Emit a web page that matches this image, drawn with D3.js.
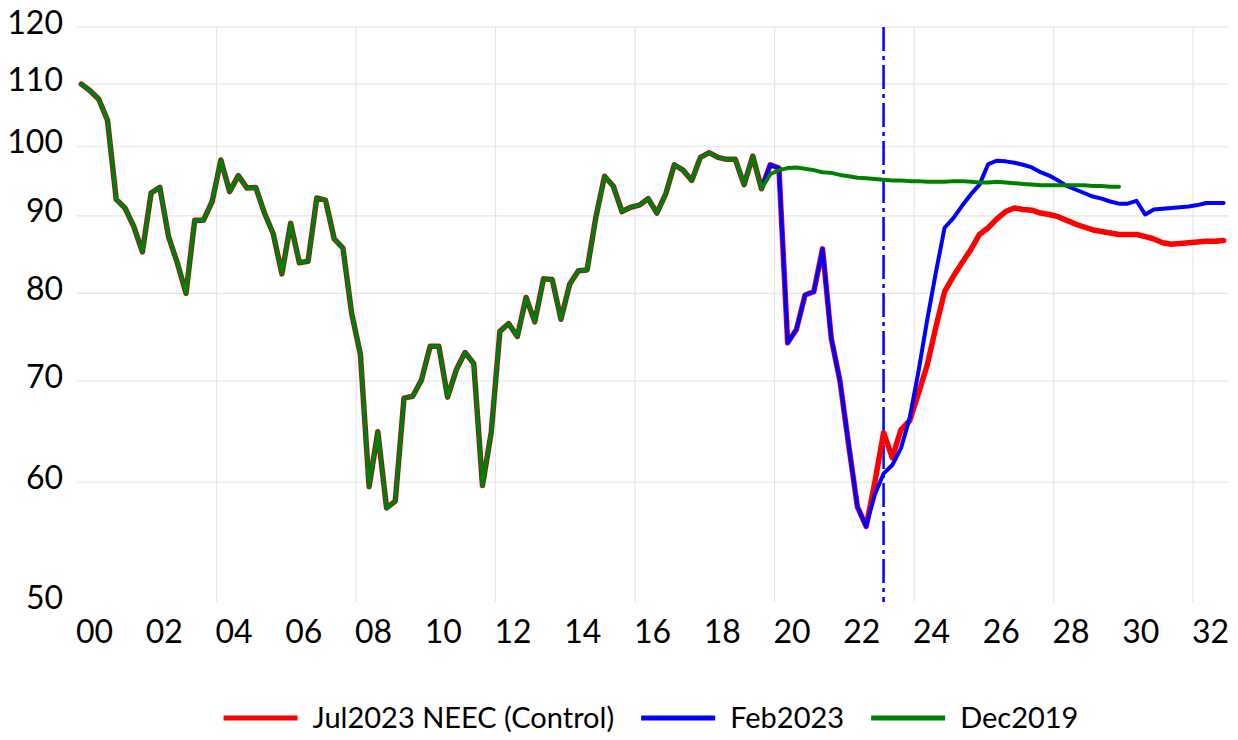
<!DOCTYPE html>
<html>
<head>
<meta charset="utf-8">
<script src="https://cdn.jsdelivr.net/npm/d3@7"></script>
<style>
    html, body { margin: 0; padding: 0; background: #ffffff; }
    #chart { width: 1238px; height: 740px; }
    text { font-family: Lato, "Open Sans", sans-serif; fill: #000000; }
</style>
</head>
<body>
<div id="chart"></div>
<script>
// ===== quarterly series, first point = 2000Q1 =====
const startYear = 2000;

// shared history 2000Q1 - 2019Q3
const history = [
    110.0, 108.9, 107.5, 104.1,
    92.3, 91.1, 88.6, 85.2,
    93.2, 94.0, 87.2, 83.8,
    80.0, 89.4, 89.4, 92.0,
    98.0, 93.4, 95.7, 93.9,
    94.0, 90.4, 87.6, 82.4,
    89.0, 83.8, 84.0, 92.5,
    92.2, 86.9, 85.7, 77.6,
    72.9, 59.6, 64.8, 57.7,
    58.3, 68.2, 68.4, 70.1,
    73.8, 73.8, 68.3, 71.2,
    73.1, 71.9, 59.7, 64.7,
    75.5, 76.4, 74.9, 79.5,
    76.6, 81.8, 81.7, 76.9,
    81.1, 82.8, 82.9, 89.8,
    95.6, 94.2, 90.6, 91.2,
    91.5, 92.4, 90.4, 93.0,
    97.3, 96.5, 95.0, 98.4,
    99.1, 98.4, 98.1, 98.1,
    94.4, 98.6, 93.8
];

// from 2019Q4 on
const jul2023 = [
    97.3,
    96.8, 74.2, 75.7, 79.8,
    80.2, 85.6, 74.7, 70.0,
    63.5, 57.8, 56.1, 60.0,
    64.7, 62.3, 65.0, 65.9,
    68.7, 71.7, 76.0, 80.2,
    82.1, 83.8, 85.5, 87.5,
    88.4, 89.6, 90.6, 91.1,
    90.9, 90.8, 90.4, 90.2,
    89.9, 89.4, 88.9, 88.5,
    88.1, 87.9, 87.7, 87.5,
    87.5, 87.5, 87.2, 86.9,
    86.4, 86.2, 86.3, 86.4,
    86.5, 86.6, 86.6, 86.7
];

const feb2023 = [
    97.3,
    96.8, 74.2, 75.7, 79.8,
    80.2, 85.6, 74.7, 70.0,
    63.5, 57.8, 56.1, 58.9,
    60.8, 61.6, 63.2, 66.2,
    71.0, 76.8, 82.6, 88.4,
    89.7, 91.4, 93.0, 94.4,
    97.4, 97.9, 97.8, 97.6,
    97.3, 96.9, 96.2, 95.7,
    95.0, 94.2, 93.7, 93.2,
    92.7, 92.4, 92.0, 91.7,
    91.7, 92.1, 90.2, 90.9,
    91.0, 91.1, 91.2, 91.3,
    91.5, 91.8, 91.8, 91.8
];

const dec2019 = [
    95.9,
    96.5, 96.8, 96.9, 96.7,
    96.5, 96.2, 96.1, 95.8,
    95.6, 95.4, 95.3, 95.2,
    95.1, 95.0, 95.0, 94.9,
    94.9, 94.8, 94.8, 94.8,
    94.9, 94.9, 94.8, 94.7,
    94.7, 94.8, 94.7, 94.6,
    94.5, 94.4, 94.3, 94.3,
    94.3, 94.3, 94.3, 94.3,
    94.2, 94.2, 94.1, 94.1
];

const yTicks = [50, 60, 70, 80, 90, 100, 110, 120];
const xLabelYears = d3.range(2000, 2033, 2);   // labels "00" .. "32"
const xGridYears = d3.range(2004, 2033, 4);
const markerYear = 2023.125;                   // 2023Q1, dashed line

const seriesNames = ['Jul2023 NEEC (Control)', 'Feb2023', 'Dec2019'];
const seriesColors = ['#ff0000', '#0000ff', '#008000'];
const seriesWidths = [5.5, 4, 4];

// ===== build =====
const width = 1238, height = 740;
const svg = d3.select('#chart').append('svg')
    .attr('width', width)
    .attr('height', height);

const x = d3.scaleLinear().domain([2000, 2033]).range([77, 1228]);
const y = d3.scaleLog().domain([50, 120]).range([602, 27]);

// quarter centre -> fractional year
const toPoints = (vals, firstIndex) =>
    vals.map((v, i) => ({ t: startYear + (firstIndex + i) / 4 + 0.125, v: v }));

const histPts = toPoints(history, 0);
const projStart = history.length;
const allSeries = [jul2023, feb2023, dec2019].map(s => histPts.concat(toPoints(s, projStart)));

// gridlines
const grid = svg.append('g');
grid.selectAll('line.h')
    .data(yTicks.filter(d => d > 50))
    .enter().append('line')
    .attr('x1', x.range()[0]).attr('x2', x.range()[1])
    .attr('y1', d => y(d)).attr('y2', d => y(d))
    .style('stroke', '#e6e6e6').style('stroke-width', 1.2);
grid.selectAll('line.v')
    .data(xGridYears)
    .enter().append('line')
    .attr('x1', d => x(d)).attr('x2', d => x(d))
    .attr('y1', y(120)).attr('y2', y(50))
    .style('stroke', '#e6e6e6').style('stroke-width', 1.2);

// y labels
svg.append('g').selectAll('text')
    .data(yTicks)
    .enter().append('text')
    .attr('x', 63)
    .attr('y', d => y(d) - 5)
    .attr('dy', '0.36em')
    .style('text-anchor', 'end')
    .style('font-size', '32px')
    .text(d => d);

// x labels
svg.append('g').selectAll('text')
    .data(xLabelYears)
    .enter().append('text')
    .attr('x', d => x(d + 0.5))
    .attr('y', 643)
    .style('text-anchor', 'middle')
    .style('font-size', '32px')
    .text(d => String(d % 100).padStart(2, '0'));

// dashed marker
svg.append('line')
    .attr('x1', x(markerYear)).attr('x2', x(markerYear))
    .attr('y1', y(120)).attr('y2', y(50))
    .style('stroke', '#0000ff')
    .style('stroke-width', 2.5)
    .style('stroke-dasharray', '24,5,4,5');

// lines: red under blue under green
const line = d3.line().x(d => x(d.t)).y(d => y(d.v));
svg.append('g').selectAll('path')
    .data(allSeries)
    .enter().append('path')
    .attr('d', line)
    .style('fill', 'none')
    .style('stroke', (d, i) => seriesColors[i])
    .style('stroke-width', (d, i) => seriesWidths[i])
    .style('stroke-linejoin', 'round')
    .style('stroke-linecap', 'round');

// legend, laid out from measured text
const legend = svg.append('g');
let cx = 0;
seriesNames.forEach((name, i) => {
    legend.append('line')
        .attr('x1', cx).attr('x2', cx + 74)
        .attr('y1', 0).attr('y2', 0)
        .style('stroke', seriesColors[i])
        .style('stroke-width', 5);
    const t = legend.append('text')
        .attr('x', cx + 89)
        .attr('y', 0)
        .attr('dy', '0.35em')
        .style('font-size', '29px')
        .text(name);
    cx += 89 + t.node().getComputedTextLength() + 27;
});
const legendWidth = cx - 27;
legend.attr('transform', `translate(${651 - legendWidth / 2},718)`);
</script>
</body>
</html>
